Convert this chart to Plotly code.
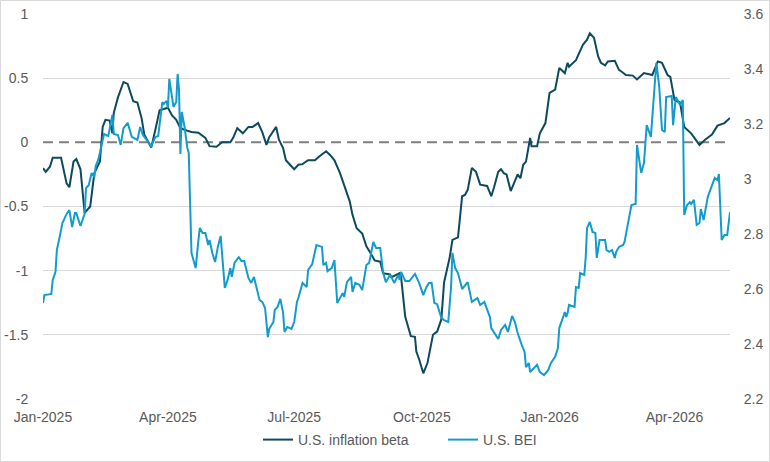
import plotly.graph_objects as go

# ---------------- data ----------------
beta_dates = [
    "2025-01-01","2025-01-03","2025-01-06","2025-01-08","2025-01-14","2025-01-18","2025-01-20","2025-01-23",
    "2025-01-25","2025-01-28","2025-01-31","2025-02-04","2025-02-07","2025-02-11","2025-02-13","2025-02-15",
    "2025-02-18","2025-02-20","2025-02-21","2025-02-24","2025-02-28","2025-03-03","2025-03-07","2025-03-10",
    "2025-03-13","2025-03-15","2025-03-17","2025-03-20","2025-03-23","2025-03-26","2025-04-01","2025-04-04",
    "2025-04-07","2025-04-10","2025-04-15","2025-04-18","2025-04-23","2025-04-28","2025-05-01","2025-05-06",
    "2025-05-10","2025-05-16","2025-05-18","2025-05-21","2025-05-25","2025-05-29","2025-06-01","2025-06-05",
    "2025-06-08","2025-06-11","2025-06-13","2025-06-17","2025-06-18","2025-06-20","2025-06-23","2025-06-25",
    "2025-06-28","2025-07-01","2025-07-04","2025-07-07","2025-07-11","2025-07-16","2025-07-19","2025-07-24",
    "2025-07-27","2025-07-30","2025-08-03","2025-08-06","2025-08-10","2025-08-12","2025-08-15","2025-08-19",
    "2025-08-22","2025-08-24","2025-08-28","2025-09-01","2025-09-03","2025-09-08","2025-09-09","2025-09-15",
    "2025-09-16","2025-09-19","2025-09-21","2025-09-23","2025-09-26","2025-09-27","2025-09-29","2025-10-02",
    "2025-10-05","2025-10-07","2025-10-09","2025-10-12","2025-10-15","2025-10-17","2025-10-21","2025-10-23",
    "2025-10-27","2025-10-30","2025-11-01","2025-11-03","2025-11-06","2025-11-09","2025-11-12","2025-11-17",
    "2025-11-20","2025-11-22","2025-11-25","2025-11-27","2025-11-29","2025-12-01","2025-12-04","2025-12-09",
    "2025-12-11","2025-12-13","2025-12-15","2025-12-18","2025-12-19","2025-12-23","2025-12-25","2025-12-29",
    "2026-01-01","2026-01-05","2026-01-08","2026-01-12","2026-01-14","2026-01-15","2026-01-20","2026-01-25",
    "2026-01-28","2026-01-30","2026-02-02","2026-02-05","2026-02-07","2026-02-10","2026-02-12","2026-02-17",
    "2026-02-20","2026-02-22","2026-02-25","2026-03-02","2026-03-05","2026-03-10","2026-03-16","2026-03-20",
    "2026-03-23","2026-03-27","2026-03-29","2026-04-01","2026-04-05","2026-04-08","2026-04-13","2026-04-19",
    "2026-04-23","2026-04-28","2026-05-02","2026-05-07","2026-05-11",
]
beta_values = [
    -0.20,-0.23,-0.19,-0.12,-0.12,-0.32,-0.35,-0.15,
    -0.13,-0.21,-0.55,-0.50,-0.24,-0.15,0.12,0.175,
    0.17,0.07,0.23,0.35,0.47,0.455,0.32,0.31,
    0.19,0.06,0.02,-0.04,0.10,0.25,0.27,0.21,
    0.175,0.11,0.09,0.08,0.075,0.035,-0.03,-0.035,
    0.0,0.0,0.035,0.11,0.07,0.12,0.12,0.15,
    0.08,-0.02,0.04,0.10,0.12,0.02,-0.045,-0.14,
    -0.175,-0.21,-0.175,-0.17,-0.14,-0.14,-0.11,-0.07,
    -0.10,-0.14,-0.24,-0.33,-0.46,-0.565,-0.67,-0.71,
    -0.81,-0.845,-0.92,-0.93,-1.02,-1.03,-1.05,-1.02,
    -1.05,-1.36,-1.44,-1.51,-1.515,-1.63,-1.69,-1.80,
    -1.72,-1.60,-1.50,-1.475,-1.38,-1.09,-0.90,-0.76,
    -0.74,-0.42,-0.41,-0.37,-0.20,-0.23,-0.33,-0.34,
    -0.42,-0.35,-0.23,-0.21,-0.24,-0.25,-0.38,-0.25,
    -0.28,-0.175,-0.15,0.035,-0.03,-0.03,0.07,0.15,
    0.385,0.41,0.58,0.54,0.62,0.59,0.64,0.76,
    0.80,0.85,0.815,0.67,0.62,0.60,0.63,0.635,
    0.565,0.55,0.525,0.52,0.49,0.54,0.525,0.63,
    0.62,0.525,0.51,0.33,0.31,0.12,0.07,-0.02,
    0.02,0.06,0.13,0.15,0.19,
]

bei_dates = [
    "2025-01-01","2025-01-02","2025-01-07","2025-01-08","2025-01-10","2025-01-11","2025-01-13","2025-01-15",
    "2025-01-18","2025-01-20","2025-01-22","2025-01-24","2025-01-25","2025-01-28","2025-01-31","2025-02-01",
    "2025-02-03","2025-02-05","2025-02-07","2025-02-08","2025-02-10","2025-02-12","2025-02-14","2025-02-17",
    "2025-02-20","2025-02-21","2025-02-24","2025-02-26","2025-02-28","2025-03-03","2025-03-06","2025-03-10",
    "2025-03-12","2025-03-14","2025-03-17","2025-03-20","2025-03-23","2025-03-25","2025-03-28","2025-03-29",
    "2025-03-31","2025-04-01","2025-04-02","2025-04-05","2025-04-07","2025-04-08","2025-04-09","2025-04-10",
    "2025-04-11","2025-04-13","2025-04-15","2025-04-16","2025-04-18","2025-04-21","2025-04-23","2025-04-24",
    "2025-04-26","2025-04-28","2025-04-30","2025-05-01","2025-05-03","2025-05-05","2025-05-07","2025-05-09",
    "2025-05-12","2025-05-14","2025-05-16","2025-05-17","2025-05-19","2025-05-22","2025-05-24","2025-05-26",
    "2025-05-29","2025-05-31","2025-06-02","2025-06-04","2025-06-06","2025-06-08","2025-06-10","2025-06-12",
    "2025-06-13","2025-06-16","2025-06-17","2025-06-19","2025-06-21","2025-06-23","2025-06-24","2025-06-26",
    "2025-06-29","2025-07-01","2025-07-03","2025-07-04","2025-07-07","2025-07-10","2025-07-11","2025-07-14",
    "2025-07-17","2025-07-21","2025-07-22","2025-07-24","2025-07-25","2025-07-28","2025-07-30","2025-08-01",
    "2025-08-05","2025-08-06","2025-08-08","2025-08-11","2025-08-12","2025-08-14","2025-08-17","2025-08-19",
    "2025-08-22","2025-08-24","2025-08-27","2025-08-29","2025-09-01","2025-09-03","2025-09-05","2025-09-08",
    "2025-09-09","2025-09-11","2025-09-14","2025-09-15","2025-09-16","2025-09-19","2025-09-22","2025-09-26",
    "2025-09-29","2025-10-02","2025-10-04","2025-10-06","2025-10-08","2025-10-10","2025-10-12","2025-10-15",
    "2025-10-17","2025-10-20","2025-10-22","2025-10-23","2025-10-25","2025-10-27","2025-10-30","2025-11-03",
    "2025-11-06","2025-11-10","2025-11-12","2025-11-15","2025-11-19","2025-11-20","2025-11-25","2025-11-27",
    "2025-11-29","2025-11-30","2025-12-02","2025-12-05","2025-12-07","2025-12-09","2025-12-12","2025-12-14",
    "2025-12-15","2025-12-17","2025-12-18","2025-12-23","2025-12-25","2025-12-28","2025-12-31","2026-01-02",
    "2026-01-05","2026-01-07","2026-01-08","2026-01-10","2026-01-12","2026-01-13","2026-01-14","2026-01-15",
    "2026-01-19","2026-01-20","2026-01-22","2026-01-23","2026-01-26","2026-01-27","2026-01-28","2026-01-30",
    "2026-02-01","2026-02-03","2026-02-04","2026-02-06","2026-02-10","2026-02-11","2026-02-13","2026-02-15",
    "2026-02-17","2026-02-18","2026-02-20","2026-02-23","2026-02-24","2026-02-26","2026-03-01","2026-03-04",
    "2026-03-05","2026-03-08","2026-03-10","2026-03-12","2026-03-15","2026-03-18","2026-03-19","2026-03-21",
    "2026-03-23","2026-03-25","2026-03-26","2026-03-30","2026-03-31","2026-04-02","2026-04-05","2026-04-07",
    "2026-04-08","2026-04-10","2026-04-12","2026-04-13","2026-04-15","2026-04-17","2026-04-19","2026-04-20",
    "2026-04-22","2026-04-25","2026-04-27","2026-04-30","2026-05-02","2026-05-03","2026-05-05","2026-05-07",
    "2026-05-09","2026-05-11",
]
bei_values = [
    2.549,2.578,2.582,2.633,2.662,2.742,2.789,2.840,
    2.873,2.887,2.825,2.876,2.876,2.829,2.873,2.967,
    2.978,3.022,3.007,3.047,3.073,3.124,3.164,3.156,
    3.233,3.164,3.160,3.124,3.185,3.204,3.153,3.142,
    3.189,3.160,3.142,3.120,3.153,3.156,3.280,3.273,
    3.284,3.258,3.364,3.262,3.280,3.382,3.324,3.091,
    3.244,3.189,3.113,3.095,2.731,2.676,2.778,2.822,
    2.804,2.804,2.760,2.778,2.731,2.698,2.753,2.793,
    2.604,2.633,2.676,2.644,2.695,2.716,2.702,2.702,
    2.640,2.622,2.644,2.596,2.560,2.553,2.531,2.425,
    2.455,2.480,2.524,2.535,2.564,2.513,2.444,2.462,
    2.455,2.480,2.553,2.567,2.622,2.607,2.669,2.691,
    2.760,2.753,2.687,2.695,2.665,2.676,2.705,2.549,
    2.585,2.571,2.625,2.644,2.589,2.622,2.615,2.596,
    2.687,2.695,2.771,2.749,2.749,2.662,2.625,2.651,
    2.644,2.622,2.651,2.633,2.662,2.629,2.629,2.655,
    2.622,2.578,2.604,2.622,2.622,2.549,2.545,2.495,
    2.487,2.480,2.607,2.731,2.676,2.658,2.600,2.625,
    2.553,2.567,2.542,2.553,2.498,2.458,2.418,2.451,
    2.462,2.469,2.444,2.502,2.480,2.440,2.396,2.371,
    2.316,2.331,2.298,2.324,2.298,2.287,2.305,2.331,
    2.353,2.385,2.458,2.487,2.516,2.498,2.513,2.542,
    2.535,2.607,2.604,2.658,2.651,2.713,2.822,2.844,
    2.807,2.804,2.713,2.778,2.778,2.742,2.735,2.742,
    2.713,2.735,2.753,2.760,2.771,2.825,2.905,2.909,
    3.124,3.022,3.058,3.196,3.153,3.360,3.422,3.335,
    3.178,3.171,3.298,3.302,3.196,3.298,3.269,3.287,
    2.869,2.905,2.916,2.909,2.924,2.833,2.840,2.891,
    2.851,2.935,2.960,3.004,2.996,3.018,2.778,2.796,
    2.796,2.880,
]

zero_line_x = ["2025-01-01", "2026-05-11"]
zero_line_y = [0, 0]

left_ticks = [1, 0.5, 0, -0.5, -1, -1.5, -2]
left_ticktext = ["1", "0.5", "0", "-0.5", "-1", "-1.5", "-2"]
right_ticks = [3.6, 3.4, 3.2, 3.0, 2.8, 2.6, 2.4, 2.2]
right_ticktext = ["3.6", "3.4", "3.2", "3", "2.8", "2.6", "2.4", "2.2"]
x_ticks = ["2025-01-01", "2025-04-01", "2025-07-01", "2025-10-01", "2026-01-01", "2026-04-01"]
x_ticktext = ["Jan-2025", "Apr-2025", "Jul-2025", "Oct-2025", "Jan-2026", "Apr-2026"]
x_range = ["2025-01-01", "2026-05-11"]

# ---------------- styles ----------------
DARK = "#0C4A5E"
LIGHT = "#139CCB"
TXT = "#595959"
GRID = "#D9D9D9"
FONT = "Liberation Sans, Arial, sans-serif"

W, H = 770, 462
ML, MR, MT, MB = 43, 40, 14, 63
PW, PH = W - ML - MR, H - MT - MB

fig = go.Figure()
# white underlay hides the zero gridline, then the dashed zero line
fig.add_trace(go.Scatter(x=zero_line_x, y=zero_line_y, mode="lines", showlegend=False,
                         hoverinfo="skip", line=dict(color="white", width=4), yaxis="y"))
fig.add_trace(go.Scatter(x=zero_line_x, y=zero_line_y, mode="lines", showlegend=False,
                         hoverinfo="skip", line=dict(color="#7F7F7F", width=2, dash="10px,6px"), yaxis="y"))
fig.add_trace(go.Scatter(x=beta_dates, y=beta_values, name="U.S. inflation beta",
                         mode="lines", line=dict(color=DARK, width=2), yaxis="y"))
fig.add_trace(go.Scatter(x=bei_dates, y=bei_values, name="U.S. BEI",
                         mode="lines", line=dict(color=LIGHT, width=2), yaxis="y2"))

# outer border
fig.add_shape(type="rect", xref="paper", yref="paper",
              x0=(-ML + 0.5) / PW, x1=(W - ML - 0.5) / PW,
              y0=-(MB - 0.5) / PH, y1=1 + (MT - 0.5) / PH,
              line=dict(color=GRID, width=1), fillcolor="rgba(0,0,0,0)", layer="above")

fig.update_layout(
    width=W, height=H,
    margin=dict(l=ML, r=MR, t=MT, b=MB, autoexpand=False),
    paper_bgcolor="white", plot_bgcolor="white",
    font=dict(family=FONT, size=14, color=TXT),
    showlegend=True,
    legend=dict(orientation="h", x=(258 - ML) / PW, xanchor="left", y=-(440 - 399) / PH, yanchor="middle",
                font=dict(size=14, color=TXT), itemwidth=30, tracegroupgap=0,
                entrywidth=140, entrywidthmode="pixels"),
    xaxis=dict(type="date", range=x_range, tickvals=x_ticks, ticktext=x_ticktext,
               showgrid=False, zeroline=False, showline=False, automargin=False,
               ticks="outside", ticklen=5, tickcolor="rgba(0,0,0,0)"),
    yaxis=dict(range=[-2, 1], tickvals=left_ticks, ticktext=left_ticktext, automargin=False,
               showgrid=True, gridcolor=GRID, gridwidth=1, zeroline=False, showline=False,
               ticks="outside", ticklen=11, tickcolor="rgba(0,0,0,0)"),
    yaxis2=dict(range=[2.2, 3.6], tickvals=right_ticks, ticktext=right_ticktext, automargin=False,
                overlaying="y", side="right", showgrid=False, zeroline=False, showline=False,
                ticks="outside", ticklen=10, tickcolor="rgba(0,0,0,0)"),
)

fig.write_html("out.html")
